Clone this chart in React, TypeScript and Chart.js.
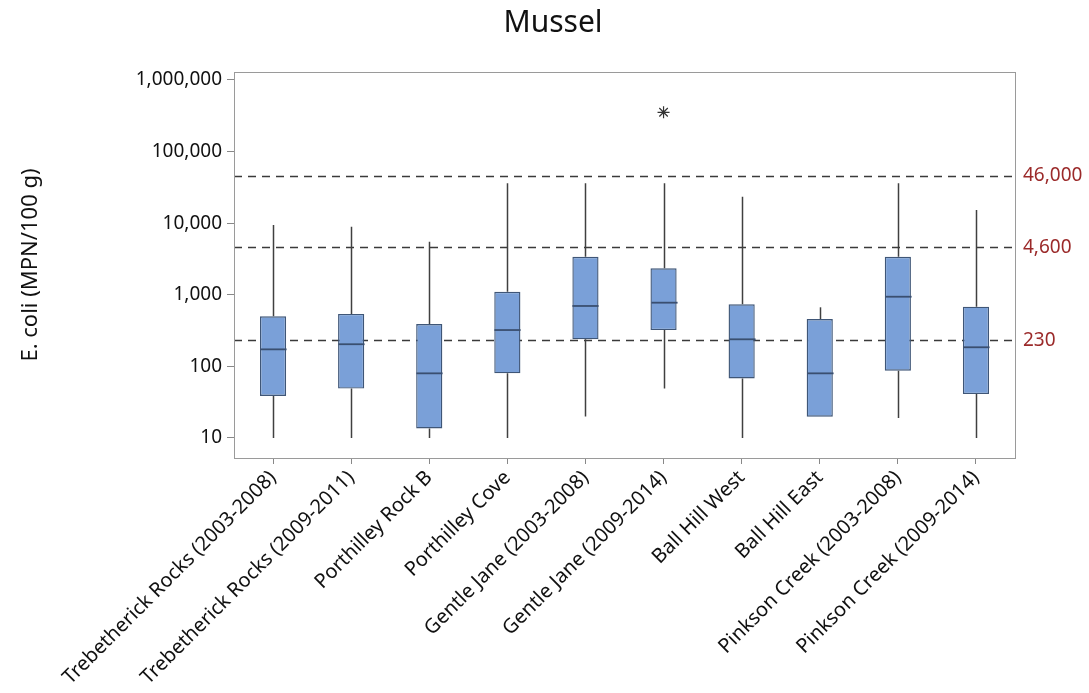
import React, { useEffect, useRef } from "react";
import { Chart, registerables } from "chart.js";

Chart.register(...registerables);

const categories = [
  "Trebetherick Rocks (2003-2008)",
  "Trebetherick Rocks (2009-2011)",
  "Porthilley Rock B",
  "Porthilley Cove",
  "Gentle Jane (2003-2008)",
  "Gentle Jane (2009-2014)",
  "Ball Hill West",
  "Ball Hill East",
  "Pinkson Creek (2003-2008)",
  "Pinkson Creek (2009-2014)",
];
const whiskerLow = [10, 10, 10, 10, 20, 49, 10, 19.8, 19, 10];
const q1 = [38.6, 49, 13.6, 80, 239, 322, 68, 19.8, 87, 41];
const median = [173, 204, 80, 322, 698, 776, 239, 80, 940, 185];
const q3 = [500, 540, 391, 1100, 3400, 2340, 737, 459, 3400, 682];
const whiskerHigh = [9450, 8930, 5520, 36000, 36000, 36000, 23400, 669, 36000, 15300];
const outliers = [null, null, null, null, null, 354000, null, null, null, null];
const leftTicks = [10, 100, 1000, 10000, 100000, 1000000];
const limitLines = [230, 4600, 46000];

const Y_MIN = 5.256;
const Y_MAX = 1.293e6;
const FONT = "'Noto Sans', 'Open Sans', sans-serif";

const boxPlugin = {
  id: "boxExtras",
  beforeDatasetsDraw(chart: any) {
    const { ctx, chartArea, scales } = chart;
    const y = scales.y;
    ctx.save();
    ctx.strokeStyle = "#3a3a3a";
    ctx.lineWidth = 1.5;
    ctx.setLineDash([8, 6]);
    limitLines.forEach((v) => {
      const py = Math.round(y.getPixelForValue(v)) + 0.5;
      ctx.beginPath();
      ctx.moveTo(chartArea.left, py);
      ctx.lineTo(chartArea.right, py);
      ctx.stroke();
    });
    ctx.restore();
  },
  afterDatasetsDraw(chart: any) {
    const { ctx, scales } = chart;
    const x = scales.x;
    const y = scales.y;
    const meta = chart.getDatasetMeta(0);
    ctx.save();
    ctx.setLineDash([]);
    categories.forEach((_, i) => {
      const px = Math.round(x.getPixelForValue(i)) + 0.5;
      const bar = meta.data[i];
      const half = bar ? bar.width / 2 : 13;
      ctx.strokeStyle = "#404040";
      ctx.lineWidth = 1.5;
      ctx.beginPath();
      ctx.moveTo(px, y.getPixelForValue(whiskerHigh[i]));
      ctx.lineTo(px, y.getPixelForValue(q3[i]));
      ctx.moveTo(px, y.getPixelForValue(q1[i]));
      ctx.lineTo(px, y.getPixelForValue(whiskerLow[i]));
      ctx.stroke();
      ctx.strokeStyle = "#3a4f70";
      ctx.lineWidth = 1.8;
      const my = y.getPixelForValue(median[i]);
      ctx.beginPath();
      ctx.moveTo(px - half, my);
      ctx.lineTo(px + half, my);
      ctx.stroke();
    });
    ctx.restore();
  },
  afterDraw(chart: any) {
    const { ctx, chartArea } = chart;
    ctx.save();
    ctx.strokeStyle = "#9a9a9a";
    ctx.lineWidth = 1;
    ctx.setLineDash([]);
    ctx.strokeRect(
      Math.round(chartArea.left) + 0.5,
      Math.round(chartArea.top) + 0.5,
      Math.round(chartArea.right - chartArea.left),
      Math.round(chartArea.bottom - chartArea.top)
    );
    ctx.restore();
  },
};

export default function App() {
  const ref = useRef<HTMLCanvasElement | null>(null);
  useEffect(() => {
    document.body.style.margin = "0";
    const canvas = ref.current;
    if (!canvas) return;
    const chart = new Chart(canvas, {
      type: "bar",
      data: {
        labels: categories,
        datasets: [
          {
            type: "bar",
            data: q1.map((v, i) => [v, q3[i]]) as any,
            backgroundColor: "#7aa0d8",
            borderColor: "#3f5677",
            borderWidth: 1.4,
            borderSkipped: false,
            barPercentage: 0.335,
            categoryPercentage: 1,
            yAxisID: "y",
            order: 2,
          } as any,
          {
            type: "line",
            data: outliers as any,
            showLine: false,
            pointStyle: "star",
            pointRadius: 6,
            borderColor: "#333",
            backgroundColor: "#333",
            borderWidth: 1.2,
            yAxisID: "y",
            order: 1,
          } as any,
        ],
      },
      options: {
        responsive: false,
        animation: false,
        layout: { padding: { left: 17, right: 0, top: 0, bottom: 0 } },
        plugins: {
          legend: { display: false },
          tooltip: { enabled: false },
          title: {
            display: true,
            text: "Mussel",
            color: "#111",
            font: { family: FONT, size: 30, weight: "normal" as any },
            padding: { top: 5, bottom: 31 },
          },
        },
        scales: {
          x: {
            type: "category",
            offset: true,
            grid: {
              offset: false,
              drawOnChartArea: false,
              drawTicks: true,
              tickLength: 6,
              color: "#888",
            },
            border: { display: false },
            ticks: {
              autoSkip: false,
              maxRotation: 45,
              minRotation: 45,
              color: "#111",
              padding: 2,
              font: { family: FONT, size: 20 },
            },
            afterFit: (s: any) => {
              s.height = 235;
            },
          },
          y: {
            type: "logarithmic",
            position: "left",
            min: Y_MIN,
            max: Y_MAX,
            afterBuildTicks: (s: any) => {
              s.ticks = leftTicks.map((v) => ({ value: v }));
            },
            grid: {
              drawOnChartArea: false,
              drawTicks: true,
              tickLength: 7,
              color: "#888",
            },
            border: { display: false },
            ticks: {
              autoSkip: false,
              color: "#111",
              padding: 5,
              font: { family: FONT, size: 19 },
              callback: (v: any) => Number(v).toLocaleString("en-US"),
            },
            title: {
              display: true,
              text: "E. coli (MPN/100 g)",
              color: "#111",
              font: { family: FONT, size: 22 },
              padding: { top: 1, bottom: 0 },
            },
            afterFit: (s: any) => {
              s.width = 217;
            },
          },
          y2: {
            type: "logarithmic",
            position: "right",
            min: Y_MIN,
            max: Y_MAX,
            afterBuildTicks: (s: any) => {
              s.ticks = limitLines.map((v) => ({ value: v }));
            },
            grid: { display: false, drawOnChartArea: false },
            border: { display: false },
            ticks: {
              autoSkip: false,
              color: "#9b2a2a",
              padding: 0,
              font: { family: FONT, size: 19 },
              callback: (v: any) => Number(v).toLocaleString("en-US"),
            },
            afterFit: (s: any) => {
              s.width = 74;
            },
          },
        },
      } as any,
      plugins: [boxPlugin],
    });
    return () => chart.destroy();
  }, []);
  return (
    <div style={{ width: 1089, height: 693, background: "#fff" }}>
      <canvas ref={ref} width={1089} height={693} style={{ display: "block" }} />
    </div>
  );
}
